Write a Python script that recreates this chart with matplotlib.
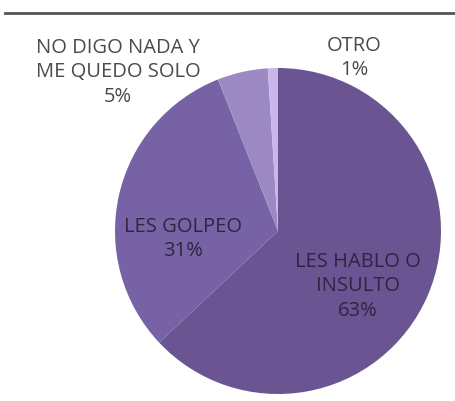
import numpy as np
import matplotlib
matplotlib.use("Agg")
import matplotlib.pyplot as plt
from matplotlib.lines import Line2D

# data
labels = ["LES HABLO O\nINSULTO", "LES GOLPEO", "NO DIGO NADA Y\nME QUEDO SOLO", "OTRO"]
values = [63, 31, 5, 1]
colors = ["#6a5592", "#7762a5", "#9c89c4", "#c8b7ea"]
# label anchors in pie-radius units
label_pos = [(0.49, -0.34), (-0.58, -0.05), (-0.98, 0.975), (0.47, 1.06)]

W, H = 456, 401
fig = plt.figure(figsize=(W/100, H/100), dpi=100)
cx, cy, r = 278, 231, 163
ax = fig.add_axes([(cx-r)/W, (H-cy-r)/H, 2*r/W, 2*r/H])
ax.pie(values, colors=colors, startangle=90, counterclock=False, radius=1,
       wedgeprops=dict(edgecolor="none"))
ax.set_xlim(-1, 1); ax.set_ylim(-1, 1)
ax.set_aspect("auto")
ax.axis("off")

fam = ["Open Sans", "DejaVu Sans"]
for lab, v, (x, y) in zip(labels, values, label_pos):
    inside = v > 10
    ax.text(x, y, f"{lab}\n{v}%", ha="center", va="center", fontsize=14.5,
            color="#2e2540" if inside else "#4a4a4a", family=fam,
            linespacing=1.3, clip_on=False)

# dark rule at the top
fig.add_artist(Line2D([5/W, 1], [1-13/H, 1-13/H], color="#555555", lw=2))

fig.savefig("out.png", dpi=100)
